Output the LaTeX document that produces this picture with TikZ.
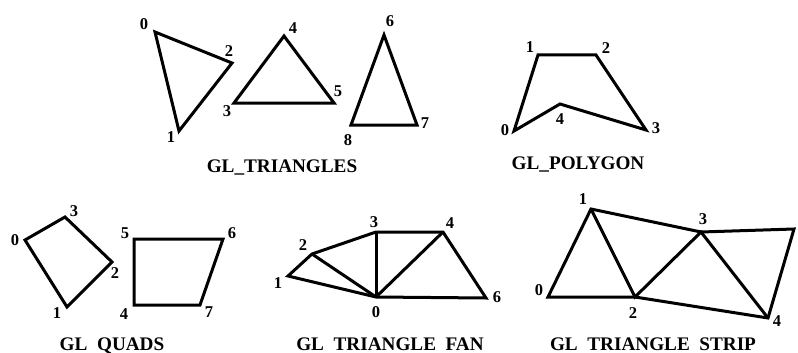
\documentclass[tikz,border=0pt]{standalone}
\usepackage{fontspec}
\setmainfont{Liberation Serif}
\begin{document}
\begin{tikzpicture}[x=1pt,y=-1pt,
  edge/.style={line width=3pt,line join=miter},
  num/.style={font=\fontsize{16.5}{16.5}\selectfont\bfseries,inner sep=0pt},
  title/.style={font=\fontsize{19.2}{19.2}\selectfont\bfseries,inner sep=0pt,anchor=base}]
\useasboundingbox[fill=white] (0,0) rectangle (798,353);
% ---------- GL_TRIANGLES ----------
\coordinate (a0) at (155,32);
\coordinate (a1) at (179,131);
\coordinate (a2) at (232,63);
\coordinate (a3) at (234,103);
\coordinate (a4) at (284,36);
\coordinate (a5) at (334,103);
\coordinate (a6) at (384,35);
\coordinate (a7) at (417,125);
\coordinate (a8) at (351,125);
\draw[edge] (a0) -- (a2) -- (a1) -- cycle;
\draw[edge] (a3) -- (a4) -- (a5) -- cycle;
\draw[edge] (a6) -- (a7) -- (a8) -- cycle;
\node[num] (la0) at (144,24) {0};
\node[num] (la1) at (171,137) {1};
\node[num] (la2) at (229,51) {2};
\node[num] (la3) at (227,111) {3};
\node[num] (la4) at (293,28) {4};
\node[num] (la5) at (338,91) {5};
\node[num] (la6) at (390,21) {6};
\node[num] (la7) at (425,123) {7};
\node[num] (la8) at (348,140) {8};
\node[title] (ta) at (282,172) {GL\_TRIANGLES};
% ---------- GL_POLYGON ----------
\coordinate (p0) at (514,131);
\coordinate (p1) at (538,55);
\coordinate (p2) at (596,55);
\coordinate (p3) at (646,130);
\coordinate (p4) at (560,104);
\draw[edge] (p0) -- (p1) -- (p2) -- (p3) -- (p4) -- cycle;
\node[num] (lp0) at (505,130) {0};
\node[num] (lp1) at (530,47) {1};
\node[num] (lp2) at (606,48) {2};
\node[num] (lp3) at (656,128) {3};
\node[num] (lp4) at (560,119) {4};
\node[title] (tp) at (578,169) {GL\_POLYGON};
% ---------- GL_QUADS ----------
\coordinate (q0) at (25,240);
\coordinate (q1) at (67,307);
\coordinate (q2) at (112,262);
\coordinate (q3) at (65,217);
\coordinate (q4) at (134,305);
\coordinate (q5) at (134,239);
\coordinate (q6) at (223,239);
\coordinate (q7) at (200,305);
\draw[edge] (q0) -- (q1) -- (q2) -- (q3) -- cycle;
\draw[edge] (q4) -- (q5) -- (q6) -- (q7) -- cycle;
\node[num] (lq0) at (15,240) {0};
\node[num] (lq1) at (57,313) {1};
\node[num] (lq2) at (115,273) {2};
\node[num] (lq3) at (74,211) {3};
\node[num] (lq4) at (124,314) {4};
\node[num] (lq5) at (125,233) {5};
\node[num] (lq6) at (232,233) {6};
\node[num] (lq7) at (209,312) {7};
\node[title] (tq) at (112,350) {GL\phantom{\_}QUADS};
% ---------- GL_TRIANGLE_FAN ----------
\coordinate (f0) at (376,297);
\coordinate (f1) at (288,276);
\coordinate (f2) at (312,254);
\coordinate (f3) at (376,232);
\coordinate (f4) at (443,232);
\coordinate (f6) at (486,298);
\draw[edge] (f0) -- (f1) -- (f2) -- (f3) -- (f4) -- (f6) -- cycle;
\draw[edge] (f0) -- (f2);
\draw[edge] (f0) -- (f3);
\draw[edge] (f0) -- (f4);
\node[num] (lf0) at (376,312) {0};
\node[num] (lf1) at (278,283) {1};
\node[num] (lf2) at (303,245) {2};
\node[num] (lf3) at (374,222) {3};
\node[num] (lf4) at (450,223) {4};
\node[num] (lf6) at (497,297) {6};
\node[title] (tf) at (390,350) {GL\phantom{\_}TRIANGLE\phantom{\_}FAN};
% ---------- GL_TRIANGLE_STRIP ----------
\coordinate (s0) at (548,297);
\coordinate (s1) at (591,209);
\coordinate (s2) at (635,297);
\coordinate (s3) at (701,232);
\coordinate (s4) at (768,318);
\coordinate (s5) at (794,229);
\draw[edge] (s0) -- (s1) -- (s3) -- (s5) -- (s4) -- (s2) -- cycle;
\draw[edge] (s1) -- (s2) -- (s3) -- (s4);
\node[num] (ls0) at (539,290) {0};
\node[num] (ls1) at (583,199) {1};
\node[num] (ls2) at (633,313) {2};
\node[num] (ls3) at (703,219) {3};
\node[num] (ls4) at (777,321) {4};
\node[title] (ts) at (653,350) {GL\phantom{\_}TRIANGLE\phantom{\_}STRIP};
\end{tikzpicture}
\end{document}
